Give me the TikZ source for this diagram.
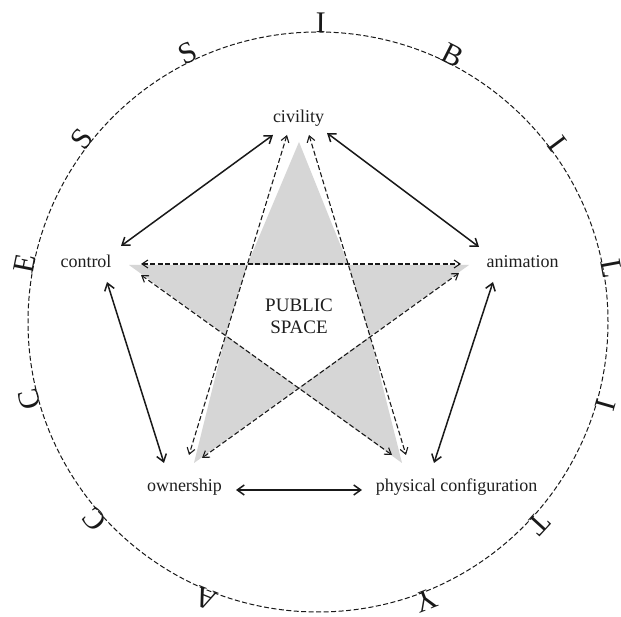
\documentclass[tikz,border=0pt]{standalone}
\usepackage{fontspec}
\setmainfont{Liberation Serif}
\usetikzlibrary{arrows.meta}
\begin{document}
\begin{tikzpicture}[x=1pt,y=1pt,
  lbl/.style={font=\fontsize{18}{20}\selectfont, text=black!88, inner sep=0pt, anchor=base},
  ringletter/.style={font=\fontsize{30}{34}\selectfont, text=black!90, inner sep=0pt, anchor=base},
  solidarrow/.style={draw=black!90, line width=1.5pt, {Straight Barb[length=7pt,width=10pt]}-{Straight Barb[length=7pt,width=10pt]}},
  dasharrow/.style={draw=black!90, line width=1.1pt, dash pattern=on 5pt off 2.5pt, {Straight Barb[length=6pt,width=8pt]}-{Straight Barb[length=6pt,width=8pt]}},
  ringline/.style={draw=black!90, line width=1pt, dash pattern=on 5pt off 2.5pt},
  starfill/.style={fill=black!16}
]
\useasboundingbox (0,0) rectangle (621,617);
\fill[white] (0,0) rectangle (621,617);

% circle
\coordinate (O) at (318,295);
\draw[ringline] (O) circle[radius=290];

% gray star
\coordinate (T) at (299,475);
\coordinate (L) at (129,352);
\coordinate (R) at (469,352);
\coordinate (BL) at (194,154);
\coordinate (BR) at (402,154);
\coordinate (PAH) at (247.2,352);
\coordinate (PBH) at (348.4,352);
\coordinate (PAC) at (225.7,281.9);
\coordinate (PBD) at (370,280.7);
\coordinate (PCD) at (298.4,229.1);
\fill[starfill] (T) -- (PAH) -- (PBH) -- cycle;
\fill[starfill] (L) -- (PAH) -- (PAC) -- cycle;
\fill[starfill] (R) -- (PBH) -- (PBD) -- cycle;
\fill[starfill] (BL) -- (PAC) -- (PCD) -- cycle;
\fill[starfill] (BR) -- (PCD) -- (PBD) -- cycle;

% labels
\node[lbl] (civility) at (298.5,494) {civility};
\node[lbl] (control) at (86,349) {control};
\node[lbl] (animation) at (522.5,349) {animation};
\node[lbl] (ownership) at (184.5,125) {ownership};
\node[lbl] (physical) at (456.5,125) {physical configuration};
\node[font=\fontsize{19}{22}\selectfont, align=center, text=black!88, inner sep=0pt] (publicspace) at (299,301) {PUBLIC\\SPACE};

% connector end points
\coordinate (civ-ctrl-a) at (273,482);
\coordinate (civ-ctrl-b) at (121,371);
\coordinate (civ-anim-a) at (327,484);
\coordinate (civ-anim-b) at (479,370);
\coordinate (ctrl-own-a) at (107,335);
\coordinate (ctrl-own-b) at (164,154);
\coordinate (anim-phys-a) at (493,335);
\coordinate (anim-phys-b) at (434,154);
\coordinate (own-phys-a) at (236,127);
\coordinate (own-phys-b) at (362,127);

\coordinate (ctrl-anim-a) at (141,353);
\coordinate (ctrl-anim-b) at (461,353);
\coordinate (ctrl-phys-a) at (141,342);
\coordinate (ctrl-phys-b) at (392,162);
\coordinate (anim-own-a) at (459,344);
\coordinate (anim-own-b) at (202,159);
\coordinate (civ-own-a) at (287,482);
\coordinate (civ-own-b) at (189,162);
\coordinate (civ-phys-a) at (309,482);
\coordinate (civ-phys-b) at (406,162);

% solid connectors
\draw[solidarrow] (civ-ctrl-a) -- (civ-ctrl-b);
\draw[solidarrow] (civ-anim-a) -- (civ-anim-b);
\draw[solidarrow] (ctrl-own-a) -- (ctrl-own-b);
\draw[solidarrow] (anim-phys-a) -- (anim-phys-b);
\draw[solidarrow] (own-phys-a) -- (own-phys-b);

% dashed connectors
\draw[dasharrow] (ctrl-anim-a) -- (ctrl-anim-b);
\draw[dasharrow] (ctrl-phys-a) -- (ctrl-phys-b);
\draw[dasharrow] (anim-own-a) -- (anim-own-b);
\draw[dasharrow] (civ-own-a) -- (civ-own-b);
\draw[dasharrow] (civ-phys-a) -- (civ-phys-b);

% letters around the circle
\foreach \ch [count=\i from 0] in {A,C,C,E,S,S,I,B,I,L,I,T,Y} {
  \pgfmathsetmacro\ang{247.9-26.4*\i}
  \pgfmathsetmacro\rot{\ang-90}
  \node[ringletter, rotate=\rot] (letter\i) at ([shift={(\ang:289)}]O) {\ch};
}
\end{tikzpicture}
\end{document}
